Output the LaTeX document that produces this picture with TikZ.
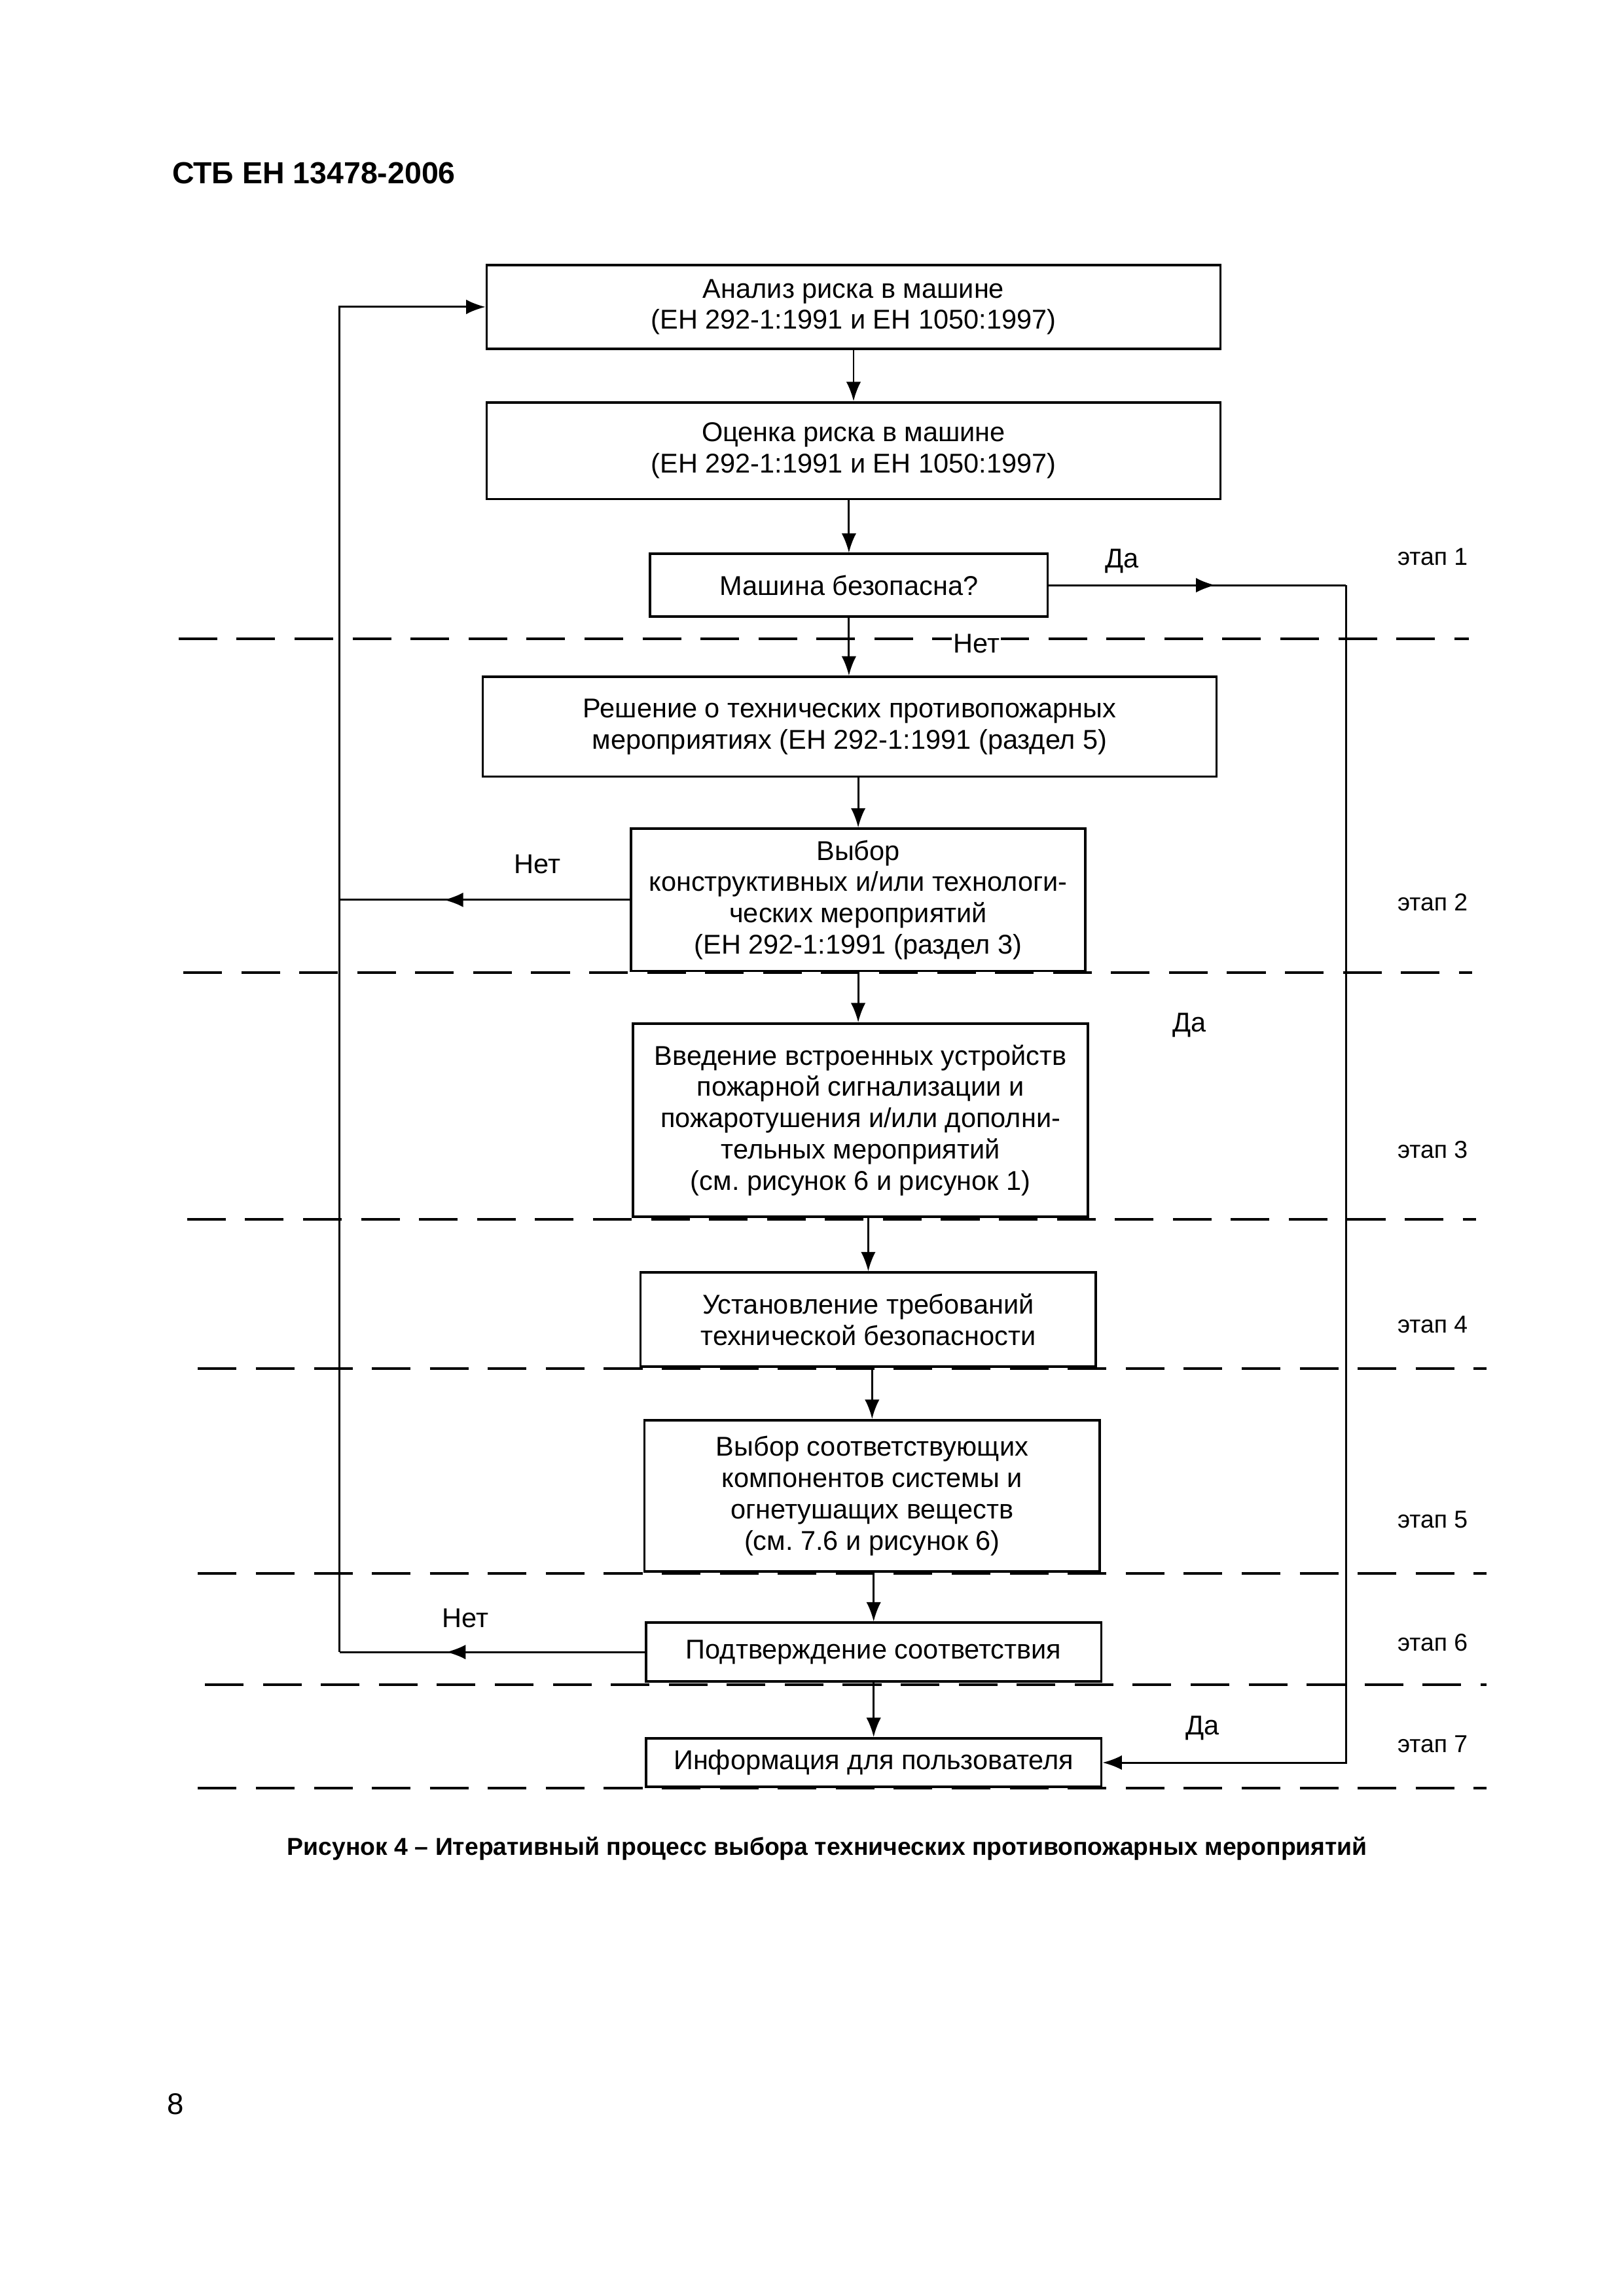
\documentclass[tikz,border=0pt]{standalone}
\usepackage{fontspec}
\setmainfont{Liberation Sans}
\usetikzlibrary{arrows.meta,decorations.markings}
\frenchspacing

\begin{document}
\begin{tikzpicture}
[
	x	= 1mm,	% page measured in millimetres
	y	= -1mm,	% counted downwards from the top edge
	box/.style	= {shape = rectangle, draw = black, line width = 0.9pt, align = center, inner sep = 0pt, font = \fontsize{10}{11.5}\selectfont},
	txt/.style	= {font = \fontsize{10}{12}\selectfont},
	flow/.style	= {line width = 0.7pt, -{Latex[length = 2.5mm, width = 1.9mm]}},
	back/.style	= {line width = 0.7pt, postaction = {decorate}, decoration = {markings, mark = at position #1 with {\arrow{Latex[length = 2.5mm, width = 1.9mm]}}}},
	stageline/.style	= {line width = 1pt, dash pattern = on 5mm off 2.5mm},
]

\useasboundingbox (0,0) rectangle (210,297);

{
	% header and footer
	\node (nHeader) [anchor = west, inner sep = 0pt, font = \fontsize{11.2}{13}\selectfont\bfseries] at (22.2,22.4) {СТБ ЕН 13478-2006};
	\node (nPage) [font = \fontsize{11}{13}\selectfont] at (22.7,272.2) {8};
	\node (nCaption) [font = \fontsize{9}{11}\selectfont\bfseries] at (107.0,239.1) {Рисунок 4 -- Итеративный процесс выбора технических противопожарных мероприятий};

	% boxes declaration
	\node (nAnalysis) [box, minimum width = 94.9mm, minimum height = 10.8mm] at (110.4,39.7) {Анализ риска в машине\\(ЕН 292-1:1991 и ЕН 1050:1997)};
	\node (nEvaluation) [box, minimum width = 94.9mm, minimum height = 12.5mm] at (110.4,58.3) {Оценка риска в машине\\(ЕН 292-1:1991 и ЕН 1050:1997)};
	\node (nSafe) [box, minimum width = 51.4mm, minimum height = 8.1mm] at (109.8,75.7) {Машина безопасна?};
	\node (nDecision) [box, minimum width = 94.9mm, minimum height = 12.9mm] at (109.9,94.0) {Решение о технических противопожарных\\мероприятиях (ЕН 292-1:1991 (раздел 5)};
	\node (nChoice) [box, minimum width = 58.8mm, minimum height = 18.4mm] at (111.0,116.4) {Выбор\\конструктивных и/или технологи-\\ческих мероприятий\\(ЕН 292-1:1991 (раздел 3)};
	\node (nIntro) [box, minimum width = 58.8mm, minimum height = 25.0mm] at (111.3,144.9) {Введение встроенных устройств\\пожарной сигнализации и\\пожаротушения и/или дополни-\\тельных мероприятий\\(см. рисунок 6 и рисунок 1)};
	\node (nRequire) [box, minimum width = 58.9mm, minimum height = 12.2mm] at (112.3,170.7) {Установление требований\\технической безопасности};
	\node (nSelect) [box, minimum width = 58.9mm, minimum height = 19.6mm] at (112.8,193.5) {Выбор соответствующих\\компонентов системы и\\огнетушащих веществ\\(см. 7.6 и рисунок 6)};
	\node (nConfirm) [box, minimum width = 58.9mm, minimum height = 7.6mm] at (113.0,213.7) {Подтверждение соответствия};
	\node (nInfo) [box, minimum width = 58.9mm, minimum height = 6.3mm] at (113.0,228.0) {Информация для пользователя};

	% stage separators
	\draw [stageline] (23.1,82.6) -- (190.0,82.6);
	\draw [stageline] (23.7,125.8) -- (190.4,125.8);
	\draw [stageline] (24.2,157.7) -- (190.9,157.7);
	\draw [stageline] (25.6,177.0) -- (192.3,177.0);
	\draw [stageline] (25.6,203.5) -- (192.3,203.5);
	\draw [stageline] (26.5,217.9) -- (192.3,217.9);
	\draw [stageline] (25.6,231.3) -- (192.3,231.3);

	% stage names
	\node (nStageOne) [txt, font = \fontsize{9}{11}\selectfont] at (185.3,72.0) {этап 1};
	\node (nStageTwo) [txt, font = \fontsize{9}{11}\selectfont] at (185.3,116.7) {этап 2};
	\node (nStageThree) [txt, font = \fontsize{9}{11}\selectfont] at (185.3,148.7) {этап 3};
	\node (nStageFour) [txt, font = \fontsize{9}{11}\selectfont] at (185.3,171.3) {этап 4};
	\node (nStageFive) [txt, font = \fontsize{9}{11}\selectfont] at (185.3,196.6) {этап 5};
	\node (nStageSix) [txt, font = \fontsize{9}{11}\selectfont] at (185.3,212.5) {этап 6};
	\node (nStageSeven) [txt, font = \fontsize{9}{11}\selectfont] at (185.3,225.6) {этап 7};

	% answers
	\node (nYesOne) [txt] at (145.1,72.6) {Да};
	\node (nNoOne) [txt, fill = white, inner sep = 0.5pt] at (126.3,83.3) {Нет};
	\node (nNoTwo) [txt] at (69.5,111.8) {Нет};
	\node (nYesTwo) [txt] at (153.8,132.6) {Да};
	\node (nNoThree) [txt] at (60.2,209.3) {Нет};
	\node (nYesThree) [txt] at (155.5,223.5) {Да};

	% side lines
	\coordinate (cLeft) at (43.9,0);
	\coordinate (cRight) at (174.1,0);

	% edges declaration
	\draw [flow] (nAnalysis.south) -- (nAnalysis.south |- nEvaluation.north);
	\draw [flow] (nSafe.north |- nEvaluation.south) -- (nSafe.north);
	\draw [flow] (nSafe.south) -- (nSafe.south |- nDecision.north);
	\draw [flow] (nChoice.north |- nDecision.south) -- (nChoice.north);
	\draw [flow] (nChoice.south) -- (nChoice.south |- nIntro.north);
	\draw [flow] (nRequire.north |- nIntro.south) -- (nRequire.north);
	\draw [flow] (nSelect.north |- nRequire.south) -- (nSelect.north);
	\draw [flow] (nConfirm.north |- nSelect.south) -- (nConfirm.north);
	\draw [flow] (nConfirm.south) -- (nInfo.north);

	\draw [back = 0.64] (nChoice.west) -- (nChoice.west -| cLeft);
	\draw [back = 0.65] (nConfirm.west) -- (nConfirm.west -| cLeft);
	\draw [flow] (nConfirm.west -| cLeft) -- (nAnalysis.west -| cLeft) -- (nAnalysis.west);
	\draw [back = 0.56] (nSafe.east) -- (nSafe.east -| cRight);
	\draw [flow] (nSafe.east -| cRight) -- (nInfo.east -| cRight) -- (nInfo.east);
}

\end{tikzpicture}
\end{document}
